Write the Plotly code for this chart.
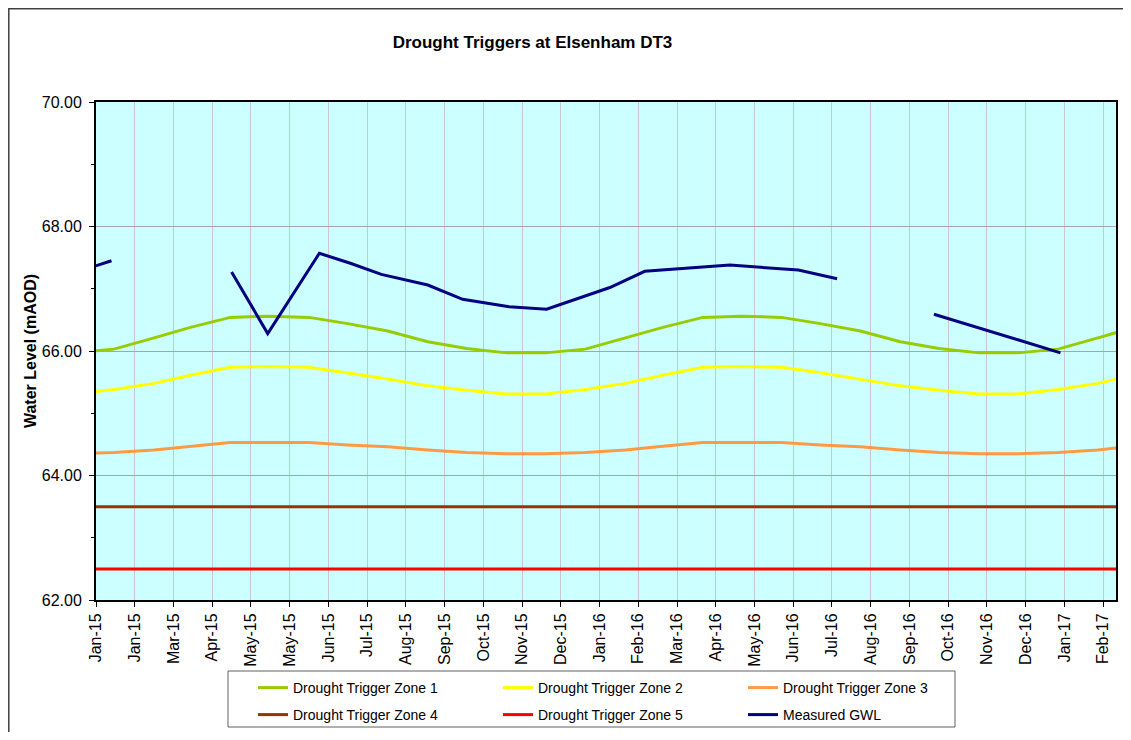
import plotly.graph_objects as go

# ---- data ----
zone_dates = [
    "2014-12-15", "2015-01-15", "2015-02-15", "2015-03-15", "2015-04-15", "2015-05-15",
    "2015-06-15", "2015-07-15", "2015-08-15", "2015-09-15", "2015-10-15", "2015-11-15",
    "2015-12-15", "2016-01-15", "2016-02-15", "2016-03-15", "2016-04-15", "2016-05-15",
    "2016-06-15", "2016-07-15", "2016-08-15", "2016-09-15", "2016-10-15", "2016-11-15",
    "2016-12-15", "2017-01-15", "2017-02-15", "2017-03-15",
]
zone1 = [65.97, 66.03, 66.21, 66.38, 66.54, 66.56, 66.54, 66.44, 66.32, 66.15, 66.04, 65.97,
         65.97, 66.03, 66.21, 66.38, 66.54, 66.56, 66.54, 66.44, 66.32, 66.15, 66.04, 65.97,
         65.97, 66.03, 66.21, 66.38]
zone2 = [65.31, 65.38, 65.48, 65.61, 65.74, 65.75, 65.74, 65.65, 65.55, 65.44, 65.37, 65.31,
         65.31, 65.38, 65.48, 65.61, 65.74, 65.75, 65.74, 65.65, 65.55, 65.44, 65.37, 65.31,
         65.31, 65.38, 65.48, 65.61]
zone3 = [64.35, 64.37, 64.41, 64.47, 64.53, 64.53, 64.53, 64.49, 64.46, 64.41, 64.37, 64.35,
         64.35, 64.37, 64.41, 64.47, 64.53, 64.53, 64.53, 64.49, 64.46, 64.41, 64.37, 64.35,
         64.35, 64.37, 64.41, 64.47]
zone4 = [63.5, 63.5, 63.5, 63.5, 63.5, 63.5, 63.5, 63.5, 63.5, 63.5, 63.5, 63.5, 63.5, 63.5,
         63.5, 63.5, 63.5, 63.5, 63.5, 63.5, 63.5, 63.5, 63.5, 63.5, 63.5, 63.5, 63.5, 63.5]
zone5 = [62.5, 62.5, 62.5, 62.5, 62.5, 62.5, 62.5, 62.5, 62.5, 62.5, 62.5, 62.5, 62.5, 62.5,
         62.5, 62.5, 62.5, 62.5, 62.5, 62.5, 62.5, 62.5, 62.5, 62.5, 62.5, 62.5, 62.5, 62.5]

gwl_dates = [
    "2014-12-14", "2015-01-13", "2015-02-15", "2015-04-16", "2015-05-14", "2015-06-23",
    "2015-07-17", "2015-08-10", "2015-09-15", "2015-10-12", "2015-11-17", "2015-12-16",
    "2016-02-03", "2016-03-01", "2016-05-06", "2016-06-28", "2016-07-28", "2016-09-01",
    "2016-10-11", "2016-11-14", "2016-12-15", "2017-01-17",
]
gwl = [67.25, 67.45, None, 67.27, 66.28, 67.57,
       67.41, 67.23, 67.06, 66.83, 66.71, 66.67,
       67.02, 67.28, 67.38, 67.30, 67.16, None,
       66.59, 66.37, 66.18, 65.97]

series_names = ["Drought Trigger Zone 1", "Drought Trigger Zone 2", "Drought Trigger Zone 3",
                "Drought Trigger Zone 4", "Drought Trigger Zone 5", "Measured GWL"]
colors = ["#99cc00", "#ffff00", "#ff9944", "#993300", "#ff0000", "#000080"]

FONT = "Arial, 'Liberation Sans', sans-serif"

fig = go.Figure()
zone_vals = [zone1, zone2, zone3, zone4, zone5]
for i, vals in enumerate(zone_vals):
    fig.add_trace(go.Scatter(
        x=zone_dates, y=vals, mode="lines", name=series_names[i],
        line=dict(color=colors[i], width=3),
        legend="legend" if i < 3 else "legend2",
    ))
fig.add_trace(go.Scatter(
    x=gwl_dates, y=gwl, mode="lines", name=series_names[5],
    line=dict(color=colors[5], width=3), connectgaps=False,
    legend="legend2",
))

# page has an 8px body margin: figure occupies page (8,8)-(1123,732), no overflow
OFF = 8
W, H = 1131 - 2 * OFF, 740 - 2 * OFF
L, T = 96 - OFF, 102 - OFF
R = (W + OFF) - 1116
B = (H + OFF) - 600
pw, ph = W - L - R, H - T - B


def px(x):  # page x -> paper
    return (x - OFF - L) / pw


def py(y):  # page y -> paper
    return (H + OFF - B - y) / ph


fig.update_layout(
    width=W, height=H,
    margin=dict(l=L, r=R, t=T, b=B, autoexpand=False),
    paper_bgcolor="white",
    plot_bgcolor="#ccffff",
    font=dict(family=FONT, size=16, color="black"),
    title=dict(text="Drought Triggers at Elsenham DT3", x=px(532.5), xref="paper",
               xanchor="center", y=1 - (42 - OFF) / H, yanchor="middle",
               font=dict(family=FONT, size=17, weight="bold", color="black")),
    legend=dict(orientation="h", x=px(253), y=py(672), xanchor="left", yanchor="top",
                bgcolor="rgba(0,0,0,0)", borderwidth=0, entrywidth=200, entrywidthmode="pixels",
                font=dict(family=FONT, size=14, color="black")),
    legend2=dict(orientation="h", x=px(253), y=py(699), xanchor="left", yanchor="top",
                 bgcolor="rgba(0,0,0,0)", borderwidth=0, entrywidth=200, entrywidthmode="pixels",
                 font=dict(family=FONT, size=14, color="black")),
    showlegend=True,
)

fig.update_xaxes(
    type="date", range=["2015-01-01", "2017-03-01"],
    tick0="2015-01-01", dtick=30 * 86400000, tickformat="%b-%y", tickangle=-90,
    showgrid=True, gridcolor="#c8c8c8", gridwidth=1,
    showline=True, linecolor="black", linewidth=2, mirror=True,
    ticks="outside", ticklen=5, tickcolor="black", tickwidth=1,
    tickfont=dict(family=FONT, size=16, color="black"),
    zeroline=False,
)
fig.update_yaxes(
    range=[62, 70], dtick=2, tick0=62, tickformat=".2f",
    showgrid=True, gridcolor="#a6a6a6", gridwidth=1,
    showline=True, linecolor="black", linewidth=2, mirror=True,
    ticks="outside", ticklen=5, tickcolor="black", tickwidth=1,
    minor=dict(dtick=1, tick0=62, ticks="outside", ticklen=3, tickcolor="black", showgrid=False),
    tickfont=dict(family=FONT, size=16, color="black"),
    ticklabelstandoff=4,
    title=dict(text="Water Level (mAOD)", standoff=1,
               font=dict(family=FONT, size=16, weight="bold", color="black")),
    zeroline=False,
)

# outer chart border (top and left visible) and legend box
fig.add_shape(type="rect", xref="paper", yref="paper",
              x0=px(8.8), x1=px(1300), y0=py(900), y1=py(8.8),
              line=dict(color="#404040", width=1.5), fillcolor="rgba(0,0,0,0)", layer="below")
fig.add_shape(type="rect", xref="paper", yref="paper",
              x0=px(228), x1=px(955), y0=py(727), y1=py(671),
              line=dict(color="#606060", width=1), fillcolor="rgba(0,0,0,0)")

fig.write_html("out.html")
